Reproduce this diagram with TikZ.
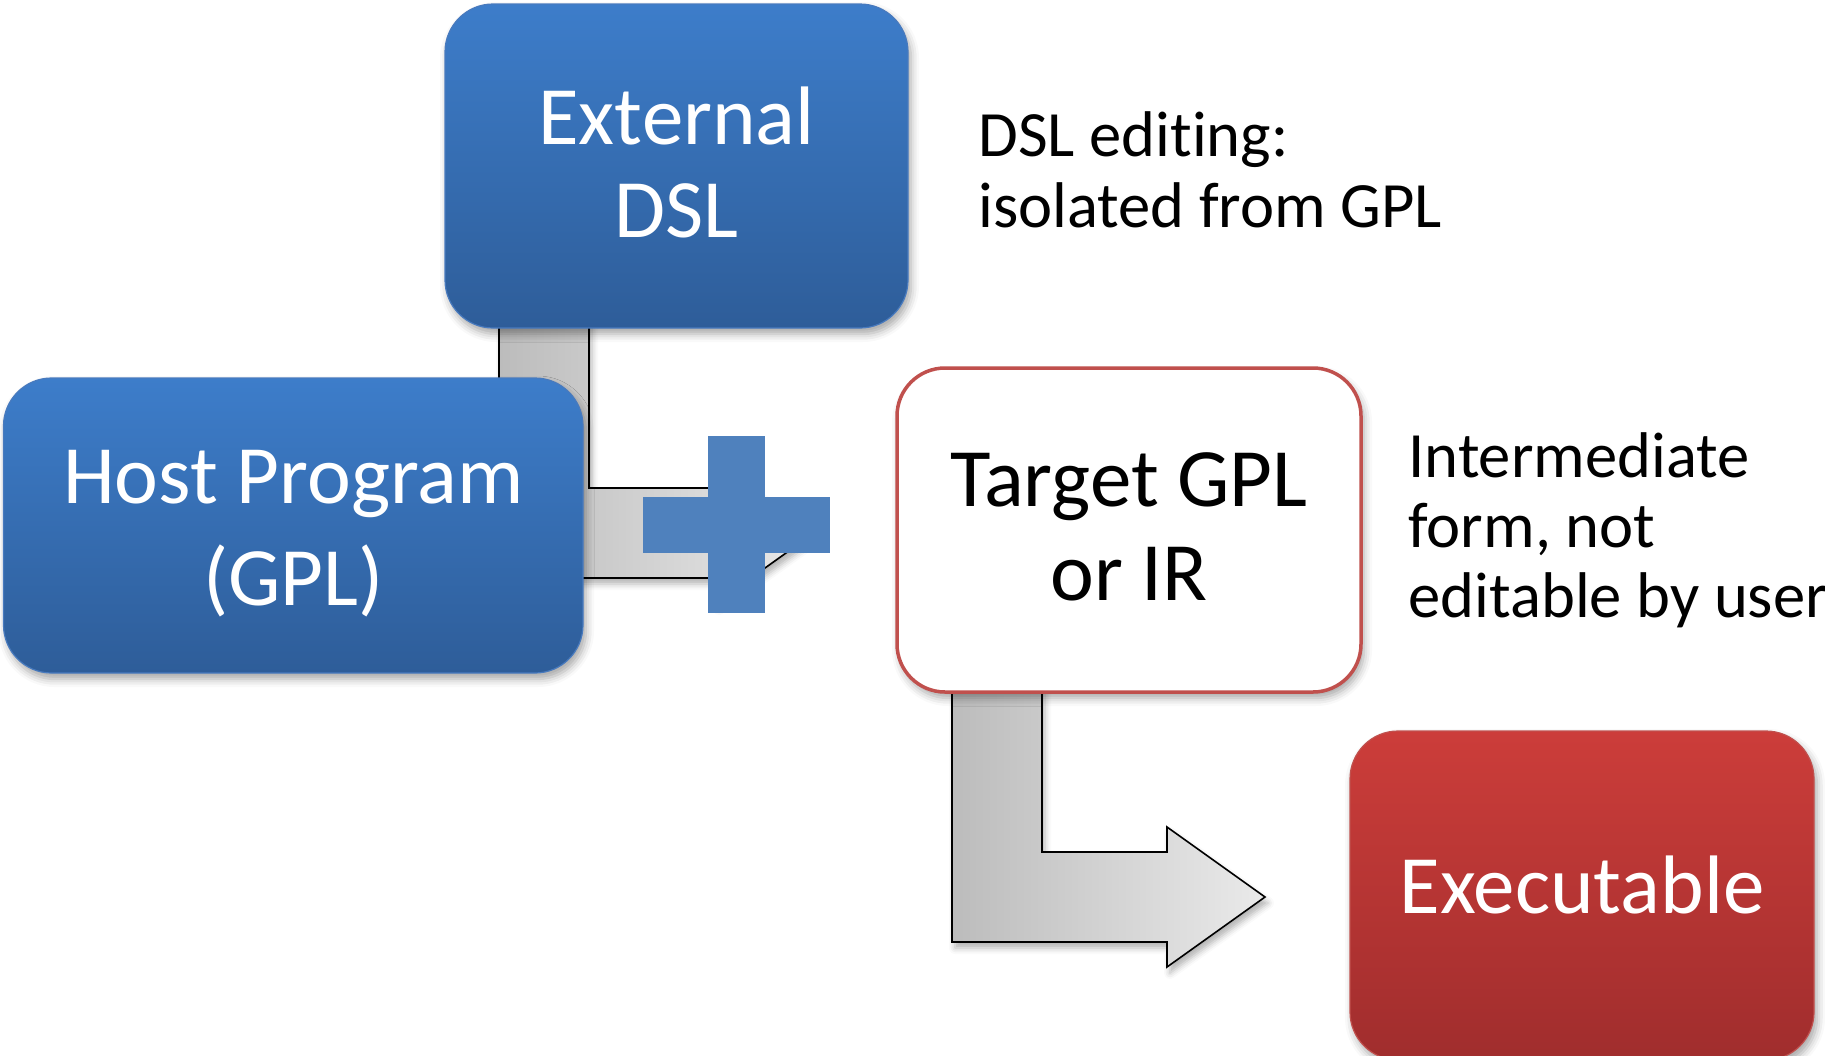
\documentclass[tikz,border=0pt]{standalone}
\usepackage{fontspec}
\setmainfont{Carlito}[Ligatures=NoCommon]
\usetikzlibrary{shadows.blur}
\definecolor{bluetop}{RGB}{61,125,202}
\definecolor{bluebot}{RGB}{46,93,153}
\definecolor{blueedge}{RGB}{72,122,190}
\definecolor{redtop}{RGB}{204,61,58}
\definecolor{redbot}{RGB}{160,45,45}
\definecolor{rededge}{RGB}{192,80,77}
\definecolor{plusblue}{RGB}{79,129,189}
\definecolor{arrowleft}{RGB}{188,188,188}
\definecolor{arrowright}{RGB}{234,234,234}
\begin{document}
\begin{tikzpicture}[x=0.5pt,y=-0.5pt,
  boxbase/.style={rounded corners=24pt, inner sep=0pt,
    blur shadow={shadow xshift=1.5pt, shadow yshift=-3pt, shadow blur radius=4pt, shadow opacity=35}},
  bluebox/.style={boxbase, top color=bluetop, bottom color=bluebot, draw=blueedge, line width=0.6pt},
  redbox/.style={boxbase, top color=redtop, bottom color=redbot, draw=rededge, line width=0.6pt},
  whitebox/.style={boxbase, fill=white, draw=rededge, line width=1.75pt},
  boxtext/.style={anchor=base, inner sep=0pt, font=\fontsize{41.5}{46.5}\selectfont},
  fatarrow/.style={draw=black, line width=0.8pt, left color=arrowleft, right color=arrowright,
    blur shadow={shadow xshift=1.5pt, shadow yshift=-3pt, shadow blur radius=3pt, shadow opacity=30}},
  sidetext/.style={anchor=base west, inner sep=0pt, font=\fontsize{32.3}{35}\selectfont, text=black}
]
\useasboundingbox (0,0) rectangle (1825,1055);

% fat arrows (drawn first, behind boxes)
\coordinate (a1tip) at (814,533);
\coordinate (a2tip) at (1265,897);
\draw[fatarrow] (499,300) -- (589,300) -- (589,488) -- (716,488) -- (716,463)
  -- (a1tip) -- (716,603) -- (716,578) -- (499,578) -- cycle;
\draw[fatarrow] (952,670) -- (1042,670) -- (1042,852) -- (1167,852) -- (1167,827)
  -- (a2tip) -- (1167,967) -- (1167,942) -- (952,942) -- cycle;

% boxes
\node[bluebox, minimum width=231.5pt, minimum height=162pt] (dsl) at (676.5,166) {};
\node[bluebox, minimum width=289.75pt, minimum height=147.5pt] (host) at (293.25,525.5) {};
\node[whitebox, minimum width=232pt, minimum height=162pt] (target) at (1129,530) {};
\node[redbox, minimum width=232pt, minimum height=164.5pt] (exe) at (1582,895.5) {};

% box texts
\node[boxtext, text=white] (dslt1) at (676.5,144) {External};
\node[boxtext, text=white] (dslt2) at (676.5,237) {DSL};
\node[boxtext, text=white] (hostt1) at (293.25,503) {Host Program};
\node[boxtext, text=white] (hostt2) at (293.25,605) {(GPL)};
\node[boxtext, text=black] (targett1) at (1129,506) {Target GPL};
\node[boxtext, text=black] (targett2) at (1129,600) {or IR};
\node[boxtext, text=white] (exet) at (1582,913) {Executable};

% plus sign
\fill[plusblue] (708,436) rectangle (765,613);
\fill[plusblue] (643,497) rectangle (830,553);

% side texts
\node[sidetext] (n1) at (978,156) {DSL edit\kern0pt ing:};
\node[sidetext] (n2) at (978,227) {isolated from GPL};
\node[sidetext] (n3) at (1408,477) {Intermediate};
\node[sidetext] (n4) at (1408,547) {form, not};
\node[sidetext] (n5) at (1408,617) {editable by user};
\end{tikzpicture}
\end{document}
